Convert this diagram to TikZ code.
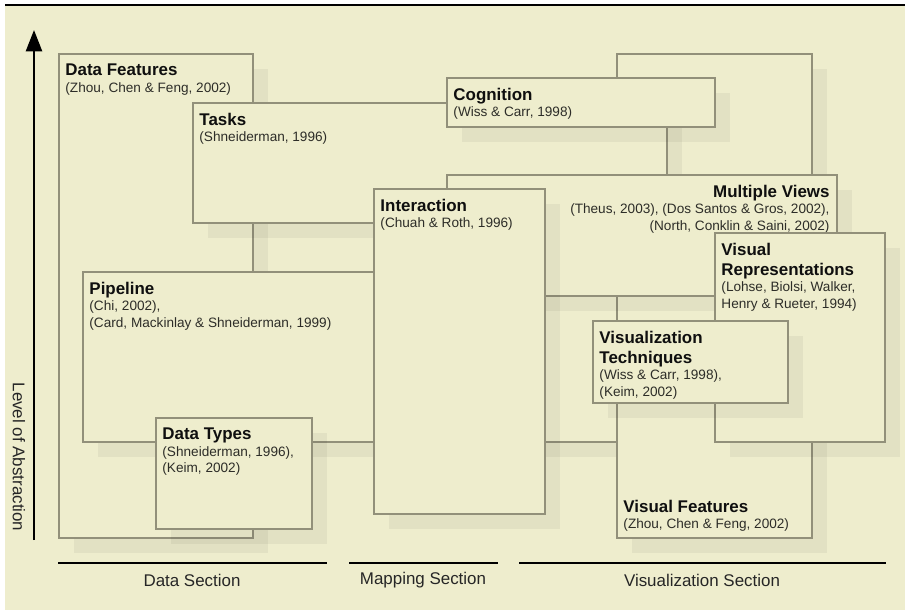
\documentclass[tikz,border=0pt]{standalone}
\usepackage{fontspec}
\setmainfont{Liberation Sans}
\usetikzlibrary{arrows.meta,shadows,fit}
\definecolor{paper}{RGB}{238,237,205}
\definecolor{edge}{RGB}{146,144,122}
\definecolor{ink}{RGB}{15,15,15}
\definecolor{citeink}{RGB}{45,45,40}
\newcommand{\boxhead}[1]{{\fontsize{12.7}{15}\selectfont\bfseries\color{ink}#1}}
\tikzset{
  card/.style={draw=edge, line width=1.2pt, fill=paper, inner sep=0pt,
    drop shadow={shadow xshift=11.25pt, shadow yshift=-11.25pt, fill=black, opacity=0.048}},
  cardtext/.style={inner sep=0pt, align=left, text=citeink, font=\fontsize{10.2}{12.4}\selectfont},
  section/.style={line width=2.2pt, black},
  sectext/.style={inner sep=0pt, font=\fontsize{12.7}{15}\selectfont, text=black!85}
}
\begin{document}
\begin{tikzpicture}[x=0.75pt,y=-0.75pt]
    \useasboundingbox (0,0) rectangle (907,610);
    \fill[paper] (5,6) rectangle (905,610);
    \draw[line width=1.5pt] (5,5) -- (905,5);

    \node[card, fit={(59,54) (253,538)}] (df) {};
    \node[cardtext, anchor=north west] (dft) at ([shift={(7,10.5)}]df.north west) {\boxhead{Data Features}\\(Zhou, Chen \& Feng, 2002)};
    \node[card, fit={(83,272) (617,442)}] (pl) {};
    \node[cardtext, anchor=north west] (plt) at ([shift={(7,10.5)}]pl.north west) {\boxhead{Pipeline}\\(Chi, 2002),\\(Card, Mackinlay \& Shneiderman, 1999)};
    \node[card, fit={(617,54) (812,538)}] (vf) {};
    \node[cardtext, anchor=south west] (vft) at ([shift={(7,-7)}]vf.south west) {\boxhead{Visual Features}\\(Zhou, Chen \& Feng, 2002)};
    \node[card, fit={(193,103) (667,223)}] (ts) {};
    \node[cardtext, anchor=north west] (tst) at ([shift={(7,10.5)}]ts.north west) {\boxhead{Tasks}\\(Shneiderman, 1996)};
    \node[card, fit={(447,78) (715,127)}] (cg) {};
    \node[cardtext, anchor=north west] (cgt) at ([shift={(7,10.5)}]cg.north west) {\boxhead{Cognition}\\(Wiss \& Carr, 1998)};
    \node[card, fit={(447,175) (837,296)}] (mv) {};
    \node[cardtext, align=right, anchor=north east] (mvt) at ([shift={(-8,10.5)}]mv.north east) {\boxhead{Multiple Views}\\(Theus, 2003), (Dos Santos \& Gros, 2002),\\(North, Conklin \& Saini, 2002)};
    \node[card, fit={(374,189) (545,514)}] (ia) {};
    \node[cardtext, anchor=north west] (iat) at ([shift={(7,10.5)}]ia.north west) {\boxhead{Interaction}\\(Chuah \& Roth, 1996)};
    \node[card, fit={(156,418) (312,529)}] (dt) {};
    \node[cardtext, anchor=north west] (dtt) at ([shift={(7,10.5)}]dt.north west) {\boxhead{Data Types}\\(Shneiderman, 1996),\\(Keim, 2002)};
    \node[card, fit={(715,233) (885,442)}] (vr) {};
    \node[cardtext, anchor=north west] (vrt) at ([shift={(7,10.5)}]vr.north west) {\boxhead{Visual}\\[2.6pt]\boxhead{Representations}\\(Lohse, Biolsi, Walker,\\Henry \& Rueter, 1994)};
    \node[card, fit={(593,321) (788,403)}] (vt) {};
    \node[cardtext, anchor=north west] (vtt) at ([shift={(7,10.5)}]vt.north west) {\boxhead{Visualization}\\[2.6pt]\boxhead{Techniques}\\(Wiss \& Carr, 1998),\\(Keim, 2002)};

    \coordinate (axislow) at (34,540);
    \coordinate (axistop) at (34,30);
    \draw[line width=1.9pt, -{Triangle[width=12pt,length=16pt]}] (axislow) -- (axistop);
    \node[sectext, rotate=-90] (level) at (19,457) {Level of Abstraction};

    \draw[section] (58,563) -- (327,563);
    \draw[section] (349,563) -- (498,563);
    \draw[section] (519,563) -- (886,563);
    \node[sectext] (datasec) at (192,580) {Data Section};
    \node[sectext] (mapsec) at (423,580) {Mapping Section};
    \node[sectext] (vissec) at (702,580) {Visualization Section};
\end{tikzpicture}
\end{document}
